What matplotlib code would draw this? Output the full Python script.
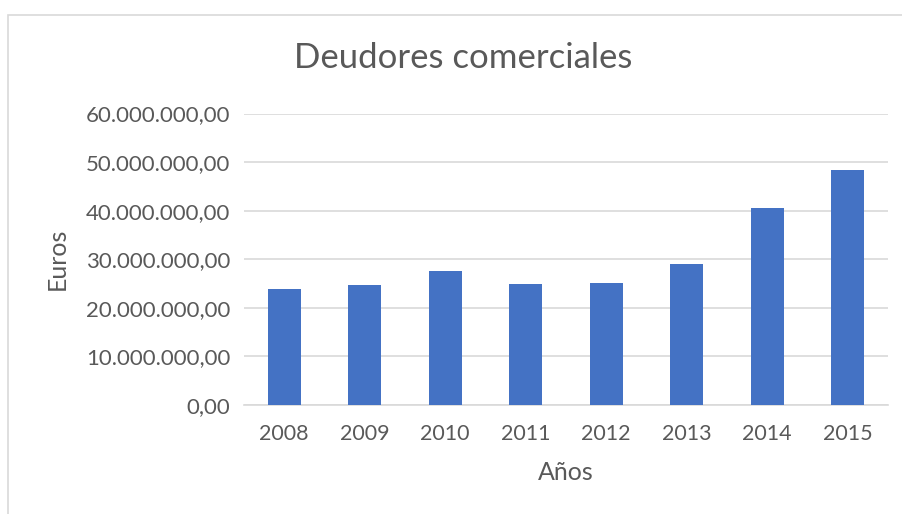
import numpy as np
import matplotlib
matplotlib.use('Agg')
from matplotlib import pyplot as plt
from matplotlib.ticker import FuncFormatter, MultipleLocator
from matplotlib.patches import Rectangle

anios = ['2008', '2009', '2010', '2011', '2012', '2013', '2014', '2015']
deudores = [23.8e6, 24.6e6, 27.6e6, 25.0e6, 25.05e6, 29.1e6, 40.6e6, 48.4e6]

gris = '#595959'
plt.rcParams['font.family'] = ['Lato', 'DejaVu Sans']

fig = plt.figure(figsize=(9.03, 5.14), dpi=100)
# borde del area del grafico
fig.patches.append(Rectangle((8/903, -0.01), 1.0, 1 - 15/514 + 0.01,
                             transform=fig.transFigure, fill=False,
                             edgecolor='#D9D9D9', linewidth=1.2))

ax = fig.add_axes([244/903, 1 - 405/514, 644/903, (405 - 113.5)/514])
x = np.arange(len(anios))
ax.bar(x, deudores, width=0.41, color='#4472C4', zorder=3)

ax.set_xlim(-0.5, len(anios) - 0.5)
ax.set_ylim(0, 60e6)
ax.yaxis.set_major_locator(MultipleLocator(10e6))

def fmt(v, pos):
    s = '{:,.2f}'.format(v)
    return s.replace(',', 'X').replace('.', ',').replace('X', '.')

ax.yaxis.set_major_formatter(FuncFormatter(fmt))
ax.set_xticks(x)
ax.set_xticklabels(anios)
ax.grid(axis='y', color='#D9D9D9', linewidth=1.2, zorder=0)
for s in ['top', 'right', 'left']:
    ax.spines[s].set_visible(False)
ax.spines['bottom'].set_color('#D9D9D9')
ax.spines['bottom'].set_linewidth(1.2)
ax.tick_params(axis='y', length=0, labelsize=16, labelcolor=gris, pad=10)
ax.tick_params(axis='x', length=0, labelsize=15.5, labelcolor=gris, pad=14)

ax.set_xlabel('Años', fontsize=18, color=gris, labelpad=12)
ax.set_ylabel('Euros', fontsize=18, color=gris, labelpad=12)
fig.text(463/903, 1 - 58/514, 'Deudores comerciales', fontsize=25,
         color=gris, ha='center', va='center')

fig.savefig('out.png', dpi=100)
